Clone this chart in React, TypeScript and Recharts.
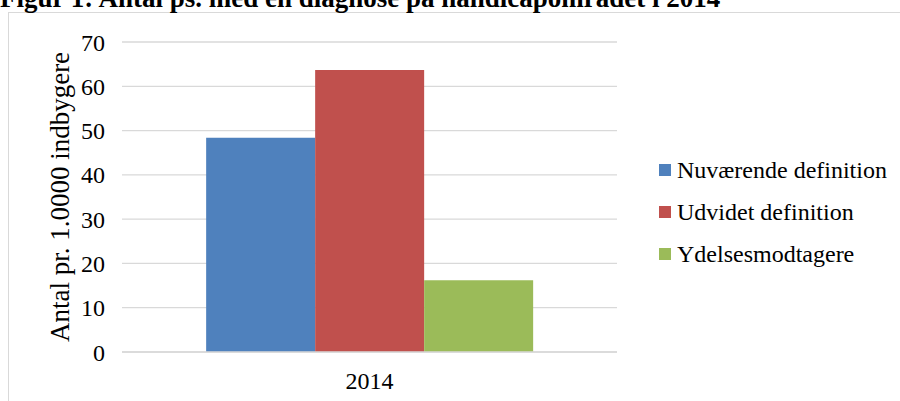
import { Bar, BarChart, CartesianGrid, XAxis, YAxis } from "recharts";

const categories = ["2014"];
const seriesNames = ["Nuværende definition", "Udvidet definition", "Ydelsesmodtagere"];
const nuvaerende = [48.4];
const udvidet = [63.7];
const ydelse = [16.2];
const yTicks = [0, 10, 20, 30, 40, 50, 60, 70];
const colors = ["#4F81BD", "#C0504D", "#9BBB59"];

const title = "Figur 1: Antal ps. med en diagnose på handicapområdet i 2014";
const yLabel = "Antal pr. 1.0000 indbygere";

const data = categories.map((year, i) => ({
  year,
  s0: nuvaerende[i],
  s1: udvidet[i],
  s2: ydelse[i],
}));

const font = "'Liberation Serif', 'Times New Roman', serif";

const App = () => {
  return (
    <div
      style={{
        position: "absolute",
        left: 0,
        top: 0,
        width: 900,
        height: 401,
        overflow: "hidden",
        background: "#fff",
        fontFamily: font,
      }}
    >
      {/* frame of the figure, right and bottom edges fall outside */}
      <div
        style={{
          position: "absolute",
          left: 8,
          top: 12,
          width: 950,
          height: 450,
          border: "1.5px solid #d9d9d9",
        }}
      />
      {/* title is clipped at the top like in the original page */}
      <div
        style={{
          position: "absolute",
          left: 0,
          top: -12,
          fontSize: 27,
          lineHeight: "20px",
          fontWeight: "bold",
          whiteSpace: "nowrap",
          color: "#000",
        }}
      >
        {title}
      </div>
      <div style={{ position: "absolute", left: 0, top: 0 }}>
        <BarChart
          width={900}
          height={401}
          data={data}
          margin={{ top: 42, right: 283, left: 0, bottom: 9 }}
          barGap={0}
          barCategoryGap="17%"
        >
          <CartesianGrid vertical={false} stroke="#d9d9d9" strokeWidth={1.3} />
          <XAxis
            dataKey="year"
            height={40}
            tickLine={false}
            tickSize={0}
            tickMargin={20}
            axisLine={{ stroke: "#d9d9d9", strokeWidth: 1.3 }}
            tick={{ fontSize: 24, fill: "#000", fontFamily: font }}
          />
          <YAxis
            width={122}
            domain={[0, 70]}
            ticks={yTicks}
            interval={0}
            tickLine={false}
            axisLine={false}
            tickSize={0}
            tickMargin={17}
            tick={{ fontSize: 24, fill: "#000", fontFamily: font }}
            label={{
              value: yLabel,
              angle: -90,
              position: "center",
              dx: -2,
              style: { fontSize: 27, fill: "#000", fontFamily: font },
            }}
          />
          <Bar dataKey="s0" name={seriesNames[0]} fill={colors[0]} isAnimationActive={false} />
          <Bar dataKey="s1" name={seriesNames[1]} fill={colors[1]} isAnimationActive={false} />
          <Bar dataKey="s2" name={seriesNames[2]} fill={colors[2]} isAnimationActive={false} />
        </BarChart>
      </div>
      <div style={{ position: "absolute", left: 659, top: 149 }}>
        {seriesNames.map((name, i) => (
          <div
            key={name}
            style={{ display: "flex", alignItems: "center", height: 42, fontSize: 24, color: "#000" }}
          >
            <span
              style={{ display: "inline-block", width: 12, height: 12, background: colors[i], marginRight: 6 }}
            />
            {name}
          </div>
        ))}
      </div>
    </div>
  );
};

export default App;
